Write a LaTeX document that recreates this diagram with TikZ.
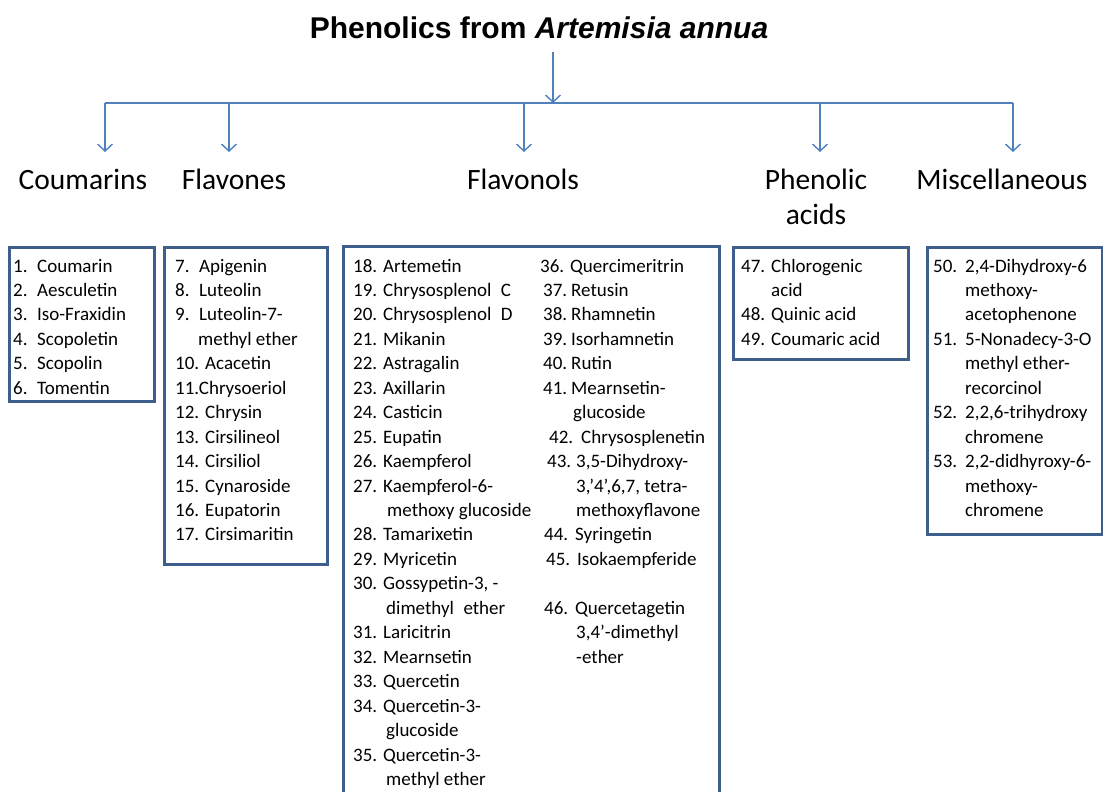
\documentclass[tikz,border=0pt]{standalone}
\usepackage{fontspec}
\setmainfont{Carlito}
\newfontfamily\titlefont{Liberation Sans}
\usetikzlibrary{arrows.meta}
\definecolor{arrowblue}{HTML}{4F81BD}
\definecolor{boxblue}{HTML}{3E5F8C}
\newcommand\Itm[6]{%
  \node[lst] (#1a) at (#2,{272+#4*24.45}) {#5};
  \node[lst] (#1b) at (#3,{272+#4*24.45}) {#6};}
\newcommand\Cnt[4]{%
  \node[lst] (#1) at (#2,{272+#3*24.45}) {#4};}
\tikzset{
  lst/.style={anchor=base west, inner sep=0pt, font=\fontsize{19}{23}\selectfont},
  cat/.style={anchor=base, inner sep=0pt, align=center, font=\fontsize{29.5}{35}\selectfont},
  listbox/.style={draw=boxblue, line width=3pt, anchor=north west, inner sep=0pt},
  conn/.style={draw=arrowblue, line width=1.4pt},
  arr/.style={conn, -{Straight Barb[length=7pt,width=15pt,line width=1.4pt]}},
}
\begin{document}
\begin{tikzpicture}[x=1pt,y=-1pt]
\useasboundingbox (0,0) rectangle (1103,792);
\clip (0,0) rectangle (1103,792);
% title
\node[anchor=base, inner sep=0pt, font=\titlefont\bfseries\fontsize{30}{36}\selectfont] (title) at (539,39) {Phenolics from \textit{Artemisia annua}};
% connectors
\coordinate (t0) at (553,52);
\coordinate (hub) at (553,103);
\coordinate (b1) at (105,103);
\coordinate (b2) at (229,103);
\coordinate (b3) at (524,103);
\coordinate (b4) at (820,103);
\coordinate (b5) at (1013,103);
\coordinate (e1) at (105,152);
\coordinate (e2) at (229,152);
\coordinate (e3) at (524,152);
\coordinate (e4) at (820,152);
\coordinate (e5) at (1013,152);
\draw[conn] (b1) -- (b5);
\draw[arr] (t0) -- (hub);
\draw[arr] (b1) -- (e1);
\draw[arr] (b2) -- (e2);
\draw[arr] (b3) -- (e3);
\draw[arr] (b4) -- (e4);
\draw[arr] (b5) -- (e5);
% categories
\node[cat] (cou) at (83,189) {Coumarins};
\node[cat] (fla) at (234,189) {Flavones};
\node[cat] (fol) at (523,189) {Flavonols};
\node[cat] (phe) at (816,224) {Phenolic\\acids};
\node[cat] (mis) at (1002,189) {Miscellaneous};
% boxes
\node[listbox, minimum width=145pt, minimum height=154pt] (bcou) at (8,246) {};
\node[listbox, minimum width=163pt, minimum height=317pt] (bfla) at (163,246) {};
\node[listbox, minimum width=376pt, minimum height=580pt] (bfol) at (342,245) {};
\node[listbox, minimum width=175pt, minimum height=112pt] (bphe) at (732,246) {};
\node[listbox, minimum width=175pt, minimum height=287pt] (bmis) at (926,246) {};
% Coumarins
\Itm{c1}{13}{37}{0}{1.}{Coumarin}
\Itm{c2}{13}{37}{1}{2.}{Aesculetin}
\Itm{c3}{13}{37}{2}{3.}{Iso-Fraxidin}
\Itm{c4}{13}{37}{3}{4.}{Scopoletin}
\Itm{c5}{13}{37}{4}{5.}{Scopolin}
\Itm{c6}{13}{37}{5}{6.}{Tomentin}
% Flavones
\Itm{f7}{175}{199}{0}{7.}{Apigenin}
\Itm{f8}{175}{199}{1}{8.}{Luteolin}
\Itm{f9}{175}{199}{2}{9.}{Luteolin-7-}
\Cnt{f9c}{198}{3}{methyl ether}
\Itm{f10}{175}{205}{4}{10.}{Acacetin}
\Cnt{f11}{175}{5}{11.Chrysoeriol}
\Itm{f12}{175}{205}{6}{12.}{Chrysin}
\Itm{f13}{175}{205}{7}{13.}{Cirsilineol}
\Itm{f14}{175}{205}{8}{14.}{Cirsiliol}
\Itm{f15}{175}{205}{9}{15.}{Cynaroside}
\Itm{f16}{175}{205}{10}{16.}{Eupatorin}
\Itm{f17}{175}{205}{11}{17.}{Cirsimaritin}
% Flavonols left
\Itm{l18}{353}{383}{0}{18.}{Artemetin}
\Itm{l19}{353}{383}{1}{19.}{Chrysosplenol\enspace C}
\Itm{l20}{353}{383}{2}{20.}{Chrysosplenol\enspace D}
\Itm{l21}{353}{383}{3}{21.}{Mikanin}
\Itm{l22}{353}{383}{4}{22.}{Astragalin}
\Itm{l23}{353}{383}{5}{23.}{Axillarin}
\Itm{l24}{353}{383}{6}{24.}{Casticin}
\Itm{l25}{353}{383}{7}{25.}{Eupatin}
\Itm{l26}{353}{383}{8}{26.}{Kaempferol}
\Itm{l27}{353}{383}{9}{27.}{Kaempferol-6-}
\Cnt{l27c}{387}{10}{methoxy glucoside}
\Itm{l28}{353}{383}{11}{28.}{Tamarixetin}
\Itm{l29}{353}{383}{12}{29.}{Myricetin}
\Itm{l30}{353}{383}{13}{30.}{Gossypetin-3, -}
\Cnt{l30c}{386}{14}{dimethyl\enspace ether}
\Itm{l31}{353}{383}{15}{31.}{Laricitrin}
\Itm{l32}{353}{383}{16}{32.}{Mearnsetin}
\Itm{l33}{353}{383}{17}{33.}{Quercetin}
\Itm{l34}{353}{383}{18}{34.}{Quercetin-3-}
\Cnt{l34c}{386}{19}{glucoside}
\Itm{l35}{353}{383}{20}{35.}{Quercetin-3-}
\Cnt{l35c}{386}{21}{methyl ether}
% Flavonols right
\Itm{r36}{540}{570}{0}{36.}{Quercimeritrin}
\Itm{r37}{543}{571}{1}{37.}{Retusin}
\Itm{r38}{543}{571}{2}{38.}{Rhamnetin}
\Itm{r39}{543}{571}{3}{39.}{Isorhamnetin}
\Itm{r40}{543}{571}{4}{40.}{Rutin}
\Itm{r41}{543}{571}{5}{41.}{Mearnsetin-}
\Cnt{r41c}{573}{6}{glucoside}
\Itm{r42}{549}{581}{7}{42.}{Chrysosplenetin}
\Itm{r43}{547}{576}{8}{43.}{3,5-Dihydroxy-}
\Cnt{r43c}{576}{9}{3,’4’,6,7, tetra-}
\Cnt{r43d}{576}{10}{methoxyflavone}
\Itm{r44}{544}{575}{11}{44.}{Syringetin}
\Itm{r45}{546}{577}{12}{45.}{Isokaempferide}
\Itm{r46}{544}{575}{14}{46.}{Quercetagetin}
\Cnt{r46c}{576}{15}{3,4’-dimethyl}
\Cnt{r46d}{576}{16}{-ether}
% Phenolic acids
\Itm{p47}{741}{771}{0}{47.}{Chlorogenic}
\Cnt{p47c}{771}{1}{acid}
\Itm{p48}{741}{771}{2}{48.}{Quinic acid}
\Itm{p49}{741}{771}{3}{49.}{Coumaric acid}
% Miscellaneous
\Itm{m50}{933}{965}{0}{50.}{2,4-Dihydroxy-6}
\Cnt{m50c}{965}{1}{methoxy-}
\Cnt{m50d}{965}{2}{acetophenone}
\Itm{m51}{933}{965}{3}{51.}{5-Nonadecy-3-O}
\Cnt{m51c}{965}{4}{methyl ether-}
\Cnt{m51d}{965}{5}{recorcinol}
\Itm{m52}{933}{965}{6}{52.}{2,2,6-trihydroxy}
\Cnt{m52c}{965}{7}{chromene}
\Itm{m53}{933}{965}{8}{53.}{2,2-didhyroxy-6-}
\Cnt{m53c}{965}{9}{methoxy-}
\Cnt{m53d}{965}{10}{chromene}
\end{tikzpicture}
\end{document}
